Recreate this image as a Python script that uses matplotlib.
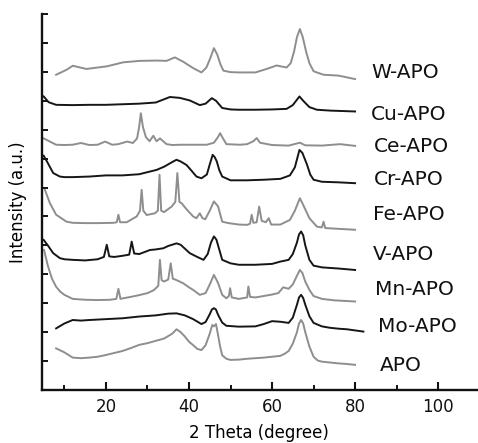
import matplotlib
matplotlib.use("Agg")
import matplotlib.pyplot as plt
from matplotlib.ticker import MultipleLocator

# ---------------- data (arbitrary offset units) ----------------
apo_x = [8, 10, 12, 14, 16, 18, 20, 22, 24, 26, 28, 30, 32, 34, 36, 37, 38, 39, 40, 41, 42, 43, 44, 45, 45.6, 46, 46.5, 47, 47.5, 48, 49, 50, 52, 54, 56, 58, 60, 62, 63, 64, 65, 66, 66.5, 67, 67.5, 68, 69, 70, 71, 72, 74, 76, 78, 80]
apo_y = [1.44, 1.30, 1.12, 1.10, 1.12, 1.15, 1.21, 1.28, 1.35, 1.45, 1.56, 1.62, 1.70, 1.78, 1.95, 2.10, 2.0, 1.85, 1.67, 1.55, 1.42, 1.38, 1.55, 1.95, 2.25, 2.2, 2.28, 1.9, 1.5, 1.2, 1.08, 1.04, 1.05, 1.08, 1.10, 1.12, 1.15, 1.18, 1.25, 1.35, 1.6, 2.0, 2.3, 2.42, 2.3, 2.0, 1.5, 1.15, 1.02, 0.98, 0.95, 0.92, 0.9, 0.87]

mo_x = [8, 10, 12, 14, 16, 20, 24, 28, 32, 35, 37, 39, 41, 43, 44, 45, 45.5, 46, 46.5, 47, 48, 49, 52, 56, 58, 60, 62, 64, 65, 66, 66.5, 67, 67.5, 68, 69, 70, 72, 74, 76, 78, 80, 82]
mo_y = [2.13, 2.30, 2.42, 2.40, 2.42, 2.45, 2.48, 2.54, 2.58, 2.64, 2.65, 2.58, 2.45, 2.28, 2.35, 2.62, 2.78, 2.83, 2.78, 2.6, 2.33, 2.22, 2.19, 2.2, 2.28, 2.38, 2.36, 2.32, 2.5, 2.95, 3.2, 3.29, 3.18, 2.95, 2.55, 2.32, 2.2, 2.15, 2.12, 2.1, 2.06, 2.02]

mn_x = [5.1, 6, 7, 8, 9, 10, 12, 15, 18, 21, 22.5, 23, 23.5, 24.5, 26, 28, 30, 31.5, 32.6, 33, 33.4, 34, 35, 35.6, 36.1, 37, 38.6, 40, 41, 42.6, 44, 45, 46, 47, 48, 49, 49.6, 49.9, 50.3, 52, 54, 54.3, 54.7, 56, 58, 60, 61.5, 62.7, 64, 65, 66, 66.7, 67.3, 68, 69, 70, 72, 75, 80]
mn_y = [4.84, 4.3, 3.85, 3.57, 3.4, 3.29, 3.15, 3.12, 3.11, 3.12, 3.15, 3.5, 3.15, 3.18, 3.22, 3.28, 3.35, 3.45, 3.6, 4.5, 3.8, 3.75, 3.82, 4.38, 3.85, 3.8, 3.69, 3.55, 3.46, 3.29, 3.35, 3.65, 3.98, 3.7, 3.29, 3.17, 3.25, 3.52, 3.2, 3.15, 3.2, 3.58, 3.22, 3.2, 3.25, 3.3, 3.35, 3.55, 3.5, 3.65, 3.95, 4.15, 4.05, 3.75, 3.46, 3.25, 3.15, 3.1, 3.06]

v_x = [5.0, 6, 7.3, 8.9, 10, 12, 15, 18, 19.5, 20.2, 20.8, 22, 24, 25.6, 26.2, 26.8, 28, 30.6, 32, 33.8, 35, 37, 38, 40.2, 42, 43.5, 44.5, 45.3, 46, 46.6, 47.3, 48, 50, 52, 56, 60, 62, 64, 65, 66, 66.5, 67, 67.5, 68, 69, 70, 72, 76, 80]
v_y = [5.19, 5.0, 4.73, 4.56, 4.52, 4.5, 4.48, 4.52, 4.6, 5.02, 4.62, 4.6, 4.64, 4.68, 5.13, 4.72, 4.7, 4.84, 4.86, 4.9, 4.98, 5.07, 5.02, 4.73, 4.6, 4.5, 4.7, 5.1, 5.31, 5.2, 4.85, 4.5, 4.38, 4.33, 4.33, 4.36, 4.44, 4.5, 4.7, 5.1, 5.38, 5.48, 5.35, 5.0, 4.5, 4.3, 4.24, 4.2, 4.15]

fe_x = [5.3, 6.5, 8, 10.5, 12, 15, 18, 21.8, 22.6, 23, 23.4, 25, 27.4, 28.2, 28.6, 29.0, 29.8, 31.8, 32.5, 32.9, 33.3, 34, 35.8, 36.7, 37.2, 37.7, 38.2, 39.4, 41, 41.8, 42.6, 43.2, 43.9, 45, 46, 47, 48, 49.5, 52, 54, 54.7, 55.1, 55.5, 56.3, 56.9, 57.5, 58.5, 59.2, 59.8, 62, 64.3, 65.5, 66.7, 67.5, 69, 70.8, 72, 72.4, 72.8, 75, 80]
fe_y = [6.92, 6.46, 6.06, 5.82, 5.78, 5.77, 5.77, 5.78, 5.8, 6.06, 5.8, 5.8, 6.0, 6.2, 6.92, 6.2, 6.05, 6.11, 6.2, 7.44, 6.2, 6.15, 6.34, 6.5, 7.5, 6.5, 6.46, 6.25, 6.0, 5.94, 6.11, 5.95, 5.9, 6.2, 6.52, 6.35, 5.82, 5.77, 5.72, 5.71, 5.75, 6.06, 5.78, 5.8, 6.34, 5.85, 5.8, 5.94, 5.72, 5.72, 5.88, 6.2, 6.63, 6.4, 5.94, 5.65, 5.62, 5.82, 5.6, 5.58, 5.54]

cr_x = [5, 5.8, 7.3, 8.9, 10, 12, 16, 20, 24, 28, 32.2, 34, 36.2, 37, 38, 39.4, 40.5, 41.8, 43, 44.3, 45.0, 45.7, 46.2, 46.7, 47.3, 48, 50, 54, 58, 62, 64.3, 65.5, 66.6, 67.3, 68.4, 69.2, 70, 72, 76, 80]
cr_y = [8.1, 7.9, 7.5, 7.38, 7.36, 7.36, 7.38, 7.42, 7.42, 7.46, 7.61, 7.72, 7.9, 7.96, 7.9, 7.78, 7.6, 7.38, 7.32, 7.45, 7.8, 8.13, 8.05, 7.9, 7.6, 7.38, 7.25, 7.25, 7.27, 7.3, 7.42, 7.7, 8.3, 8.2, 7.8, 7.45, 7.27, 7.2, 7.18, 7.15]

ce_x = [5, 6.5, 8, 10, 12, 14, 16, 18, 19.8, 21.5, 23, 25.1, 26.5, 27.5, 28.0, 28.4, 28.9, 29.6, 30.5, 31.4, 32.2, 33, 34.6, 36, 38, 40, 42, 44.3, 46, 47, 47.5, 48.1, 49, 52.3, 54, 55.5, 56.3, 57.1, 60, 64, 66.7, 68, 72, 76.4, 80]
ce_y = [8.7, 8.59, 8.48, 8.47, 8.48, 8.54, 8.47, 8.48, 8.59, 8.48, 8.5, 8.59, 8.54, 8.7, 9.1, 9.57, 9.1, 8.75, 8.6, 8.79, 8.6, 8.7, 8.5, 8.47, 8.48, 8.48, 8.48, 8.48, 8.55, 8.75, 8.88, 8.72, 8.5, 8.48, 8.5, 8.6, 8.71, 8.55, 8.47, 8.45, 8.55, 8.46, 8.45, 8.5, 8.44]

cu_x = [5, 6.2, 8, 12, 16, 20, 24, 28, 32, 35.4, 37.8, 40.2, 42.6, 44, 45.5, 46.5, 48, 50, 52, 56, 60, 63.5, 65, 66.6, 67.5, 69, 70.8, 74, 80]
cu_y = [10.15, 9.95, 9.86, 9.85, 9.86, 9.86, 9.88, 9.9, 9.94, 10.13, 10.1, 10.01, 9.85, 9.9, 10.09, 10.0, 9.75, 9.7, 9.69, 9.69, 9.7, 9.72, 9.85, 10.15, 10.0, 9.78, 9.69, 9.66, 9.63]

w_x = [8, 10.5, 12, 15.3, 20.2, 24.2, 28.2, 32.2, 34.6, 36.6, 38.6, 41, 43, 44.2, 45.2, 46, 46.8, 47.6, 48.3, 50, 52, 56, 58.7, 61.1, 63.5, 64.5, 65.3, 66.0, 66.7, 67.4, 68.2, 69, 70, 72.4, 76, 80]
w_y = [10.9, 11.07, 11.21, 11.1, 11.19, 11.33, 11.38, 11.39, 11.38, 11.5, 11.35, 11.13, 10.98, 11.15, 11.5, 11.82, 11.6, 11.25, 11.04, 10.99, 10.98, 10.98, 11.1, 11.22, 11.15, 11.3, 11.7, 12.2, 12.48, 12.2, 11.7, 11.3, 11.02, 10.9, 10.87, 10.75]

sample_names = ["APO", "Mo-APO", "Mn-APO", "V-APO", "Fe-APO", "Cr-APO", "Ce-APO", "Cu-APO", "W-APO"]
label_x = [86.0, 85.5, 84.8, 84.3, 84.2, 84.6, 84.6, 83.9, 83.9]
label_y = [0.84, 2.21, 3.46, 4.67, 6.06, 7.27, 8.41, 9.52, 10.97]
x_ticks = [20, 40, 60, 80, 100]
x_tick_labels = ["20", "40", "60", "80", "100"]

series = [(apo_x, apo_y), (mo_x, mo_y), (mn_x, mn_y), (v_x, v_y), (fe_x, fe_y),
          (cr_x, cr_y), (ce_x, ce_y), (cu_x, cu_y), (w_x, w_y)]

GRAY = "#8e8e8e"
BLACK = "#161616"
colors = [GRAY, BLACK, GRAY, BLACK, GRAY, BLACK, GRAY, BLACK, GRAY]

# ---------------- figure ----------------
fig = plt.figure(figsize=(4.78, 4.43), dpi=100)
W, H = 478, 443
ax = fig.add_axes([42 / W, (H - 390) / H, (478 - 42) / W, (390 - 14) / H])

for (xs, ys), c in zip(series, colors):
    ax.plot(xs, ys, color=c, lw=1.4, solid_joinstyle="round")

for name, lx, ly in zip(sample_names, label_x, label_y):
    ax.text(lx, ly, name, fontsize=14.5, va="center", ha="left", color="#111111")

ax.set_xlim(4.6, 109.6)
ax.set_ylim(0, 13)
ax.set_xticks(x_ticks)
ax.set_xticklabels(x_tick_labels)
ax.xaxis.set_minor_locator(MultipleLocator(10))
ax.set_yticks(range(1, 14))
ax.set_yticklabels([])

for s in ["top", "right"]:
    ax.spines[s].set_visible(False)
for s in ["left", "bottom"]:
    ax.spines[s].set_linewidth(1.7)
    ax.spines[s].set_color("#111111")

ax.tick_params(axis="x", which="major", direction="in", length=5.5, width=1.5,
               labelsize=12, pad=6, colors="#111111")
ax.tick_params(axis="x", which="minor", direction="in", length=3.5, width=1.3)
ax.tick_params(axis="y", which="major", direction="in", length=4.5, width=1.3)

ax.set_xlabel("2 Theta (degree)", fontsize=12, va="center")
ax.xaxis.set_label_coords(0.497, -(433 - 390) / 376)
ax.set_ylabel("Intensity (a.u.)", fontsize=12, va="center")
ax.yaxis.set_label_coords(-(42 - 18) / 436, 0.5)

fig.savefig("out.png", dpi=100)
